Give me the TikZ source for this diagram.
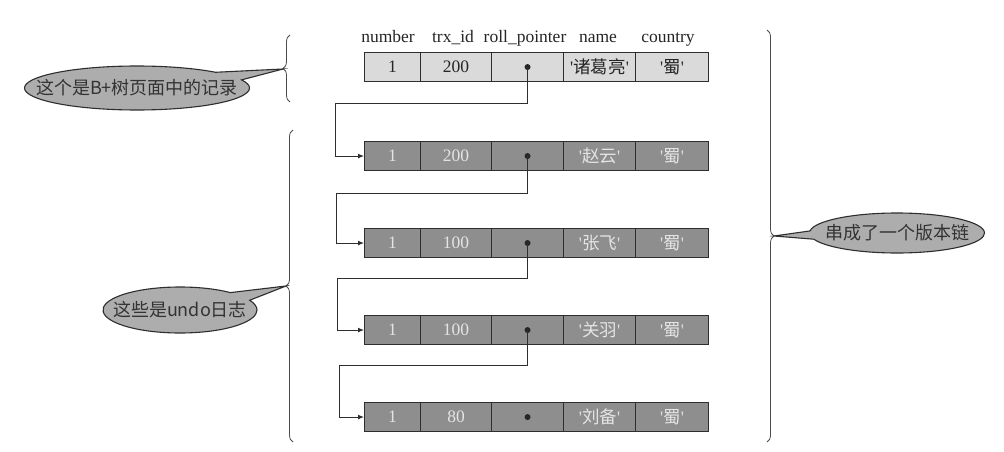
\documentclass[tikz,border=0pt]{standalone}
\usepackage{fontspec}
\setmainfont{Liberation Serif}
\newfontfamily\cjk{Noto Sans CJK SC}
\usetikzlibrary{shapes.callouts,decorations.pathreplacing,arrows.meta}
\definecolor{lightrow}{HTML}{DADADA}
\definecolor{darkrow}{HTML}{8E8E8E}
\definecolor{darktext}{HTML}{E4E4E4}
\definecolor{bubblefill}{HTML}{ADADAD}
\definecolor{inkline}{HTML}{2E2E2E}
\newcommand\sq{\textquotesingle}
\newcommand{\recrow}[5]{%
  \node[#3, minimum width=56pt] (r#1c1) at (364,#2) {1};
  \node[#3, minimum width=71pt] (r#1c2) at (420,#2) {#4};
  \node[#3, minimum width=72pt] (r#1c3) at (491,#2) {};
  \node[#3, minimum width=72pt] (r#1c4) at (563,#2) {\sq{\cjk #5}\sq};
  \node[#3, minimum width=73pt] (r#1c5) at (635,#2) {\sq{\cjk 蜀}\sq};
  \node[dotmark] (d#1) at (r#1c3.center) {};
}
\begin{document}
\begin{tikzpicture}[x=1pt,y=-1pt,
  cellA/.style={draw=inkline, line width=1.1pt, fill=lightrow, minimum height=29pt,
    inner sep=0pt, anchor=north west, font=\fontsize{17.5}{20}\selectfont, text=black!85},
  cellB/.style={cellA, fill=darkrow, text=darktext},
  dotmark/.style={circle, fill=black!85, inner sep=0pt, minimum size=6pt},
  hdr/.style={font=\fontsize{17.5}{20}\selectfont, text=black!85, inner sep=0pt, anchor=base},
  conn/.style={draw=inkline, line width=0.9pt},
  arr/.style={conn, -{Latex[length=6pt,width=5pt]}},
  bracestyle/.style={draw=black!70, line width=0.8pt, decorate,
    decoration={brace, amplitude=7pt}},
  bubble/.style={ellipse callout, draw=inkline, line width=1.1pt, fill=bubblefill,
    inner sep=0pt, callout pointer arc=24},
  btext/.style={font=\fontsize{18}{20}\selectfont\cjk, text=black!80, inner sep=0pt}]
\useasboundingbox[fill=white] (0,0) rectangle (1004,452);

% headers
\node[hdr] (h1) at (388,43) {number};
\node[hdr] (h2) at (453,43) {trx\_id};
\node[hdr] (h3) at (525,43) {roll\_pointer};
\node[hdr] (h4) at (598,43) {name};
\node[hdr] (h5) at (668,43) {country};

% records
\recrow{1}{52}{cellA}{200}{诸葛亮}
\recrow{2}{141}{cellB}{200}{赵云}
\recrow{3}{228}{cellB}{100}{张飞}
\recrow{4}{315}{cellB}{100}{关羽}
\recrow{5}{402}{cellB}{80}{刘备}

% chain connectors
\coordinate (k1) at (335,103);
\coordinate (k2) at (336,193);
\coordinate (k3) at (337,278);
\coordinate (k4) at (339,365);
\draw[conn] (d1.center) |- (k1);
\draw[arr] (k1) |- (r2c1.west);
\draw[conn] (d2.center) |- (k2);
\draw[arr] (k2) |- (r3c1.west);
\draw[conn] (d3.center) |- (k3);
\draw[arr] (k3) |- (r4c1.west);
\draw[conn] (d4.center) |- (k4);
\draw[arr] (k4) |- (r5c1.west);

% braces
\coordinate (ba1) at (290,102);
\coordinate (ba2) at (290,35);
\coordinate (bb1) at (293,442);
\coordinate (bb2) at (293,130);
\coordinate (bc1) at (767,30);
\coordinate (bc2) at (767,442);
\draw[bracestyle] (ba1) -- (ba2);
\draw[bracestyle] (bb1) -- (bb2);
\draw[bracestyle] (bc1) -- (bc2);

% brace tips
\coordinate (t1) at (283,69);
\coordinate (t2) at (286,286);
\coordinate (t3) at (774,236);

% callouts
\node[bubble, minimum width=225pt, minimum height=44pt, callout absolute pointer={(t1)}] (c1) at (137,88) {};
\node[btext] (l1) at (c1.center) {这个是B+树页面中的记录};
\node[bubble, minimum width=154pt, minimum height=46pt, callout absolute pointer={(t2)}] (c2) at (180,310) {};
\node[btext] (l2) at (c2.center) {这些是undo日志};
\node[bubble, minimum width=175pt, minimum height=40pt, callout absolute pointer={(t3)}] (c3) at (897,233) {};
\node[btext] (l3) at (c3.center) {串成了一个版本链};
\end{tikzpicture}
\end{document}
